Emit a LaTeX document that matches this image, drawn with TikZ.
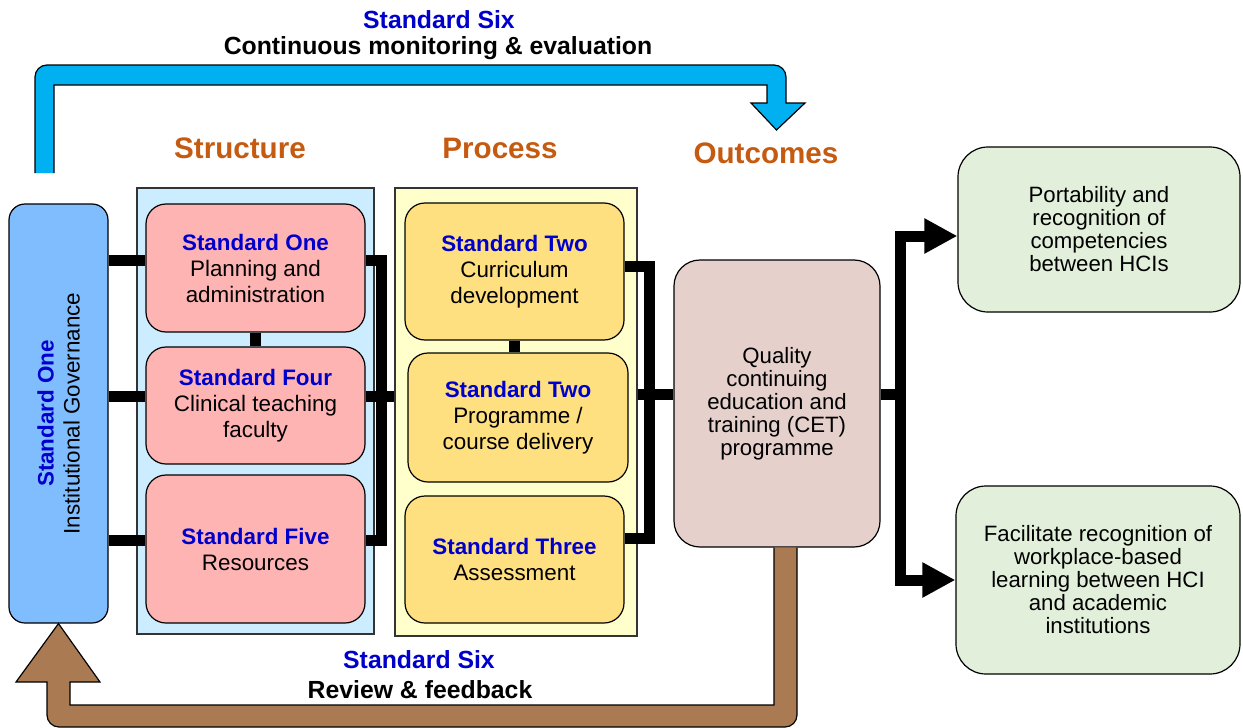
\documentclass[tikz,border=0pt]{standalone}
\usepackage{fontspec}
\setmainfont{Liberation Sans}
\usetikzlibrary{arrows.meta,positioning,calc}

\definecolor{stdblue}{RGB}{0,0,204}
\definecolor{headcol}{RGB}{197,90,17}
\definecolor{govfill}{RGB}{128,189,255}
\definecolor{strfill}{RGB}{204,236,255}
\definecolor{procfill}{RGB}{255,255,204}
\definecolor{redfill}{RGB}{255,180,180}
\definecolor{yelfill}{RGB}{255,224,128}
\definecolor{cetfill}{RGB}{229,208,203}
\definecolor{outfill}{RGB}{226,239,218}
\definecolor{loopblue}{RGB}{0,176,240}
\definecolor{loopbrown}{RGB}{170,122,82}

\newcommand{\stdname}[1]{\textcolor{stdblue}{\bfseries #1}}

\begin{document}
\begin{tikzpicture}[x=0.5pt,y=-0.5pt,
 txt/.style={align=center,font=\fontsize{11.2}{13}\selectfont},
 grp/.style={draw=black!80,line width=0.6pt,inner sep=0pt},
 govbox/.style={draw,line width=0.6pt,rounded corners=8pt,fill=govfill,minimum width=49.5pt,minimum height=209.5pt},
 redbox/.style={txt,draw,line width=0.6pt,rounded corners=10pt,fill=redfill,minimum width=109.5pt},
 yelbox/.style={txt,draw,line width=0.6pt,rounded corners=10pt,fill=yelfill,minimum width=109.5pt},
 cetbox/.style={draw,line width=0.6pt,rounded corners=13pt,fill=cetfill,minimum width=103pt,minimum height=143.5pt,
   align=center,font=\fontsize{11.1}{11.5}\selectfont},
 outbox/.style={draw,line width=0.6pt,rounded corners=15pt,fill=outfill,
   align=center,font=\fontsize{11.1}{11.5}\selectfont},
 head/.style={font=\fontsize{14.8}{17}\selectfont\bfseries,text=headcol},
 loopt/.style={font=\fontsize{12.4}{14}\selectfont\bfseries},
 link/.style={line width=5.5pt},
 loop/.style={line width=0.6pt}]
\useasboundingbox (0,0) rectangle (1243,728);

% groups
\node[grp,fill=strfill,minimum width=118.5pt,minimum height=223pt] (strc) at (255.5,411) {};
\node[grp,fill=procfill,minimum width=121pt,minimum height=224pt] (proc) at (516,412) {};
\node[head] (hstr) at (240,148) {Structure};
\node[head] (hproc) at (500,148) {Process};
\node[head] (hout) at (766,153) {Outcomes};

% governance
\node[govbox] (gov) at (58.5,413.5) {};
\node[txt,rotate=90] (govlabel) at (gov) {\stdname{Standard One}\\Institutional Governance};

% structure
\node[redbox,minimum height=64pt] (s1) at (255.5,268) {\stdname{Standard One}\\Planning and\\administration};
\node[redbox,minimum height=58.5pt] (s4) at (255.5,405.5) {\stdname{Standard Four}\\Clinical teaching\\faculty};
\node[redbox,minimum height=74pt] (s5) at (255.5,549) {\stdname{Standard Five}\\Resources};

% process
\node[yelbox,minimum height=68.5pt] (p1) at (514.5,271.5) {\stdname{Standard Two}\\Curriculum\\development};
\node[yelbox,minimum width=110pt,minimum height=64.5pt] (p2) at (518,417.5) {\stdname{Standard Two}\\Programme /\\course delivery};
\node[yelbox,minimum height=63.5pt] (p3) at (514.5,559.5) {\stdname{Standard Three}\\Assessment};

% outcomes
\node[cetbox] (cet) at (777,403.5) {Quality\\continuing\\education and\\training (CET)\\programme};
\node[outbox,minimum width=141pt,minimum height=82.5pt] (o1) at (1099,229.5) {Portability and\\recognition of\\competencies\\between HCIs};
\node[outbox,minimum width=142pt,minimum height=94pt] (o2) at (1098,580) {Facilitate recognition of\\workplace-based\\learning between HCI\\and academic\\institutions};

% links
\foreach \b/\dy in {s1/4,s4/4.75,s5/4.5}
  \draw[link] ([yshift=\dy pt]gov.east |- \b.west) -- ([yshift=\dy pt]\b.west);
\draw[link] (s1.south) -- (s4.north);
\draw[link] ([yshift=4pt]s1.east) -| ([xshift=8pt,yshift=4.5pt]s5.east) -- ([yshift=4.5pt]s5.east);
\draw[link] ([yshift=4.75pt]s4.east) -- ([yshift=4.75pt]s4.east -| proc.west);
\draw[link] (p1.south) -- (p1.south |- p2.north);
\draw[link] ([yshift=2.75pt]p1.east) -| ([xshift=12.5pt,yshift=10.75pt]p3.east) -- ([yshift=10.75pt]p3.east);
\draw[link] ([yshift=4.75pt]proc.east |- cet.west) -- ([yshift=4.75pt]cet.west);
\draw[link] ([yshift=4.75pt]cet.east) -- ++(10pt,0) coordinate (fork);
\draw[link,-{Triangle[length=16.5pt,width=16.5pt]}] (fork) |- ([yshift=-3.25pt]o1.west);
\draw[link,-{Triangle[length=16.5pt,width=16.5pt]}] (fork) |- (o2.west);

% monitoring loop
\filldraw[loop,fill=loopblue] (54,173) -- (54,85) -- (767,85) -- (767,103) -- (751,103) -- (776.5,130) -- (805,103)
  -- (786,103) [rounded corners=6pt] -- (786,65) -- (35,65) [sharp corners] -- (35,173);
\node[loopt,text=stdblue] (monstd) at (439,20) {Standard Six};
\node[loopt] (montxt) at (438,48) {Continuous monitoring \& evaluation};

% feedback loop
\filldraw[loop,fill=loopbrown] ($(cet.south)+(-3,0)$) -- (774,705) -- (70,705) -- (70,682) -- (100,682) -- (gov.south)
  -- (16,682) -- (47,682) [rounded corners=6pt] -- (47,727) -- (797,727) [sharp corners] -- ($(cet.south)+(20,0)$);
\node[loopt,text=stdblue] (revstd) at (419,660) {Standard Six};
\node[loopt] (revtxt) at (420,690) {Review \& feedback};
\end{tikzpicture}
\end{document}
